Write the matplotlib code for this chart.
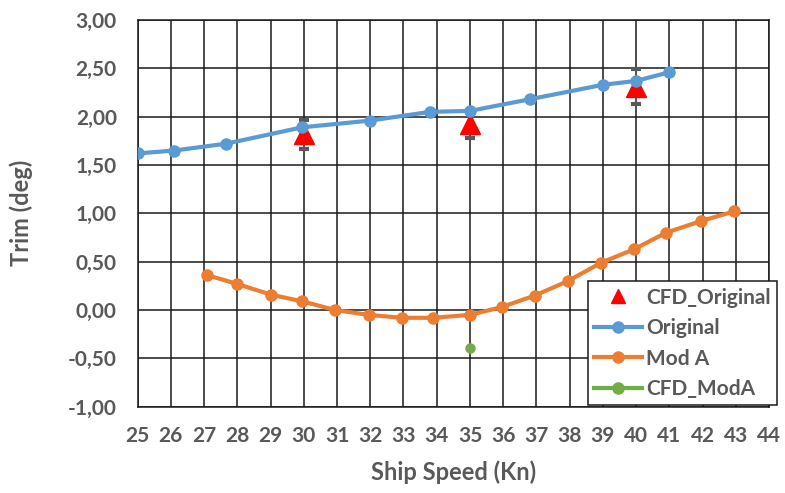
import matplotlib
matplotlib.use('Agg')
import numpy as np
from matplotlib import pyplot as plt

# Data
orig_speed = [25, 26.1, 27.65, 29.95, 32, 33.8, 35, 36.8, 39, 40, 41]
orig_trim = [1.62, 1.65, 1.72, 1.89, 1.96, 2.05, 2.06, 2.18, 2.33, 2.37, 2.46]

moda_speed = [27.1, 28, 29, 29.95, 30.95, 31.95, 32.95, 33.9, 35, 35.95,
              36.95, 37.95, 38.95, 39.95, 40.9, 41.95, 42.95]
moda_trim = [0.36, 0.27, 0.16, 0.09, 0.0, -0.05, -0.08, -0.08, -0.05, 0.03,
             0.15, 0.30, 0.49, 0.63, 0.80, 0.92, 1.02]

cfd_orig_speed = [30, 35, 40]
cfd_orig_trim = [1.82, 1.92, 2.31]
cfd_orig_err = [0.15, 0.14, 0.18]

cfd_moda_speed = [35]
cfd_moda_trim = [-0.39]

x_ticks = list(range(25, 45))
y_ticks = [-1.0, -0.5, 0.0, 0.5, 1.0, 1.5, 2.0, 2.5, 3.0]

gray = '#595959'
plt.rcParams['font.family'] = ['Lato', 'DejaVu Sans']

fig = plt.figure(figsize=(7.85, 4.93), dpi=100)
ax = fig.add_axes([0.1754, 0.175, 0.8042, 0.7844])

ax.errorbar(cfd_orig_speed, cfd_orig_trim, yerr=cfd_orig_err, fmt='none',
            ecolor='#595959', elinewidth=1.5, capsize=3.8, capthick=3, zorder=3)
ax.plot(cfd_orig_speed, cfd_orig_trim, '^', color='#FF0000', markersize=15,
        zorder=4, label='CFD_Original')
ax.plot(orig_speed, orig_trim, '-o', color='#5B9BD5', lw=3, markersize=8,
        zorder=5, label='Original')
ax.plot(moda_speed, moda_trim, '-o', color='#ED7D31', lw=3, markersize=8,
        zorder=5, label='Mod A')
ax.plot(cfd_moda_speed, cfd_moda_trim, 'o', color='#70AD47', markersize=6.5,
        zorder=5)
# legend entry for CFD_ModA shown as line+marker
ax.plot([], [], '-o', color='#70AD47', lw=3, markersize=8, label='CFD_ModA')

ax.set_xlim(25, 44)
ax.set_ylim(-1, 3)
ax.set_xticks(x_ticks)
ax.set_yticks(y_ticks)
ax.set_yticklabels([f'{v:.2f}'.replace('.', ',') for v in y_ticks])
ax.grid(True, color='#1a1a1a', lw=1.1)
ax.set_axisbelow(True)
for s in ax.spines.values():
    s.set_color('#1a1a1a')
    s.set_linewidth(1.1)
ax.tick_params(length=0, labelsize=15, labelcolor=gray)
ax.tick_params(axis='x', pad=14)
ax.tick_params(axis='y', pad=15)
for lab in ax.get_xticklabels() + ax.get_yticklabels():
    lab.set_fontweight('bold')

ax.set_xlabel('Ship Speed (Kn)', fontsize=17, fontweight='bold', color=gray,
              labelpad=10)
ax.set_ylabel('Trim (deg)', fontsize=17, fontweight='bold', color=gray,
              labelpad=25)

leg = ax.legend(loc='lower right', bbox_to_anchor=(0.99, 0.178),
                bbox_transform=fig.transFigure, fontsize=15, frameon=True,
                fancybox=False, edgecolor='#1a1a1a', framealpha=1,
                handlelength=2.3, handletextpad=0.2, borderpad=0.3,
                labelspacing=0.5, borderaxespad=0)
leg.get_frame().set_linewidth(1.1)
leg.legend_handles[0].set_markersize(10)
for t in leg.get_texts():
    t.set_color(gray)
    t.set_fontweight('bold')
leg.set_zorder(10)

fig.savefig('out.png', dpi=100)
